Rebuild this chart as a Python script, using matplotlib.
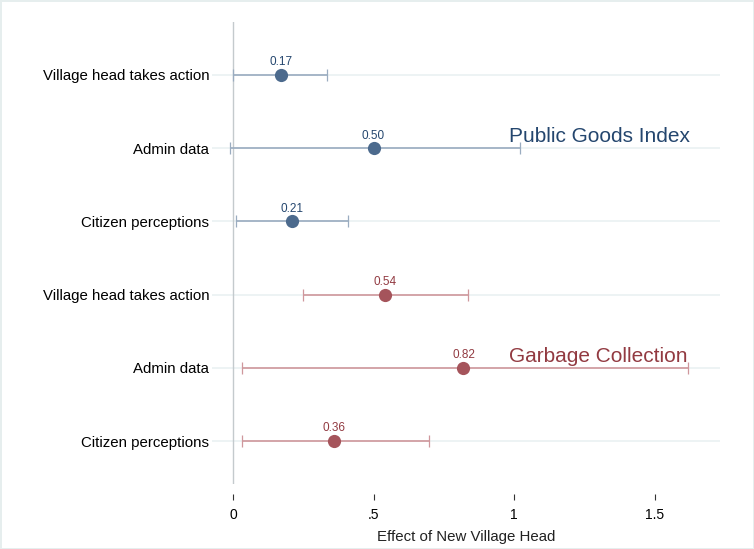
import matplotlib.pyplot as plt

plt.rcParams['font.family'] = ['Liberation Sans', 'DejaVu Sans']

outcomes = ["Village head takes action", "Admin data", "Citizen perceptions",
            "Village head takes action", "Admin data", "Citizen perceptions"]
estimates = [0.17, 0.50, 0.21, 0.54, 0.82, 0.36]
ci_low = [0.0, -0.01, 0.01, 0.25, 0.033, 0.031]
ci_high = [0.336, 1.021, 0.41, 0.837, 1.62, 0.699]
groups = ["Public Goods Index", "Garbage Collection"]
xticks = [0, 0.5, 1, 1.5]
xtick_labels = ["0", ".5", "1", "1.5"]

blue_pt, blue_ci, blue_txt = '#4c6a8d', '#9aacc0', '#24466e'
red_pt, red_ci, red_txt = '#a5545b', '#cf979c', '#923a41'

fig = plt.figure(figsize=(7.54, 5.49), dpi=100)
fig.patch.set_edgecolor('#e6eeee')
fig.patch.set_linewidth(2)
ax = fig.add_axes([212 / 754, 65 / 549, 508 / 754, 462 / 549])

ypos = list(range(1, len(outcomes) + 1))
for i, y in enumerate(ypos):
    if i < 3:
        pc, cc, tc = blue_pt, blue_ci, blue_txt
    else:
        pc, cc, tc = red_pt, red_ci, red_txt
    ax.axhline(y, color='#eaf1f2', lw=1.2, zorder=0)
    # confidence interval with end caps
    ax.errorbar(estimates[i], y,
                xerr=[[estimates[i] - ci_low[i]], [ci_high[i] - estimates[i]]],
                fmt='none', ecolor=cc, elinewidth=1.2, capsize=4,
                capthick=0.9, zorder=2)
    ax.plot(estimates[i], y, 'o', color=pc, markersize=9.5,
            markeredgewidth=0, zorder=3)
    ax.text(estimates[i], y - 0.09, f"{estimates[i]:.2f}", ha='center',
            va='bottom', fontsize=8.5, color=tc)

ax.axvline(0, color='#c4cacd', lw=1, zorder=1)

ax.text(1.626, 1.84, groups[0], ha='right', va='center', fontsize=15, color=blue_txt)
ax.text(1.619, 4.84, groups[1], ha='right', va='center', fontsize=15, color=red_txt)

ax.set_xlim(-0.075, 1.733)
ax.set_ylim(6.587, 0.277)
ax.set_yticks(ypos)
ax.set_yticklabels(outcomes, fontsize=10.8)
ax.tick_params(axis='y', length=0, pad=2)
ax.set_xticks(xticks)
ax.set_xticklabels(xtick_labels, fontsize=10.8)
ax.tick_params(axis='x', length=4, width=0.8, color='#333333', pad=6)
for side in ['top', 'right', 'left']:
    ax.spines[side].set_visible(False)
ax.spines['bottom'].set_position(('outward', 7))
ax.spines['bottom'].set_color('none')
ax.set_xlabel("Effect of New Village Head", fontsize=10.8, color='#222222', labelpad=6)

fig.savefig('out.png', dpi=100, edgecolor=fig.get_edgecolor())
